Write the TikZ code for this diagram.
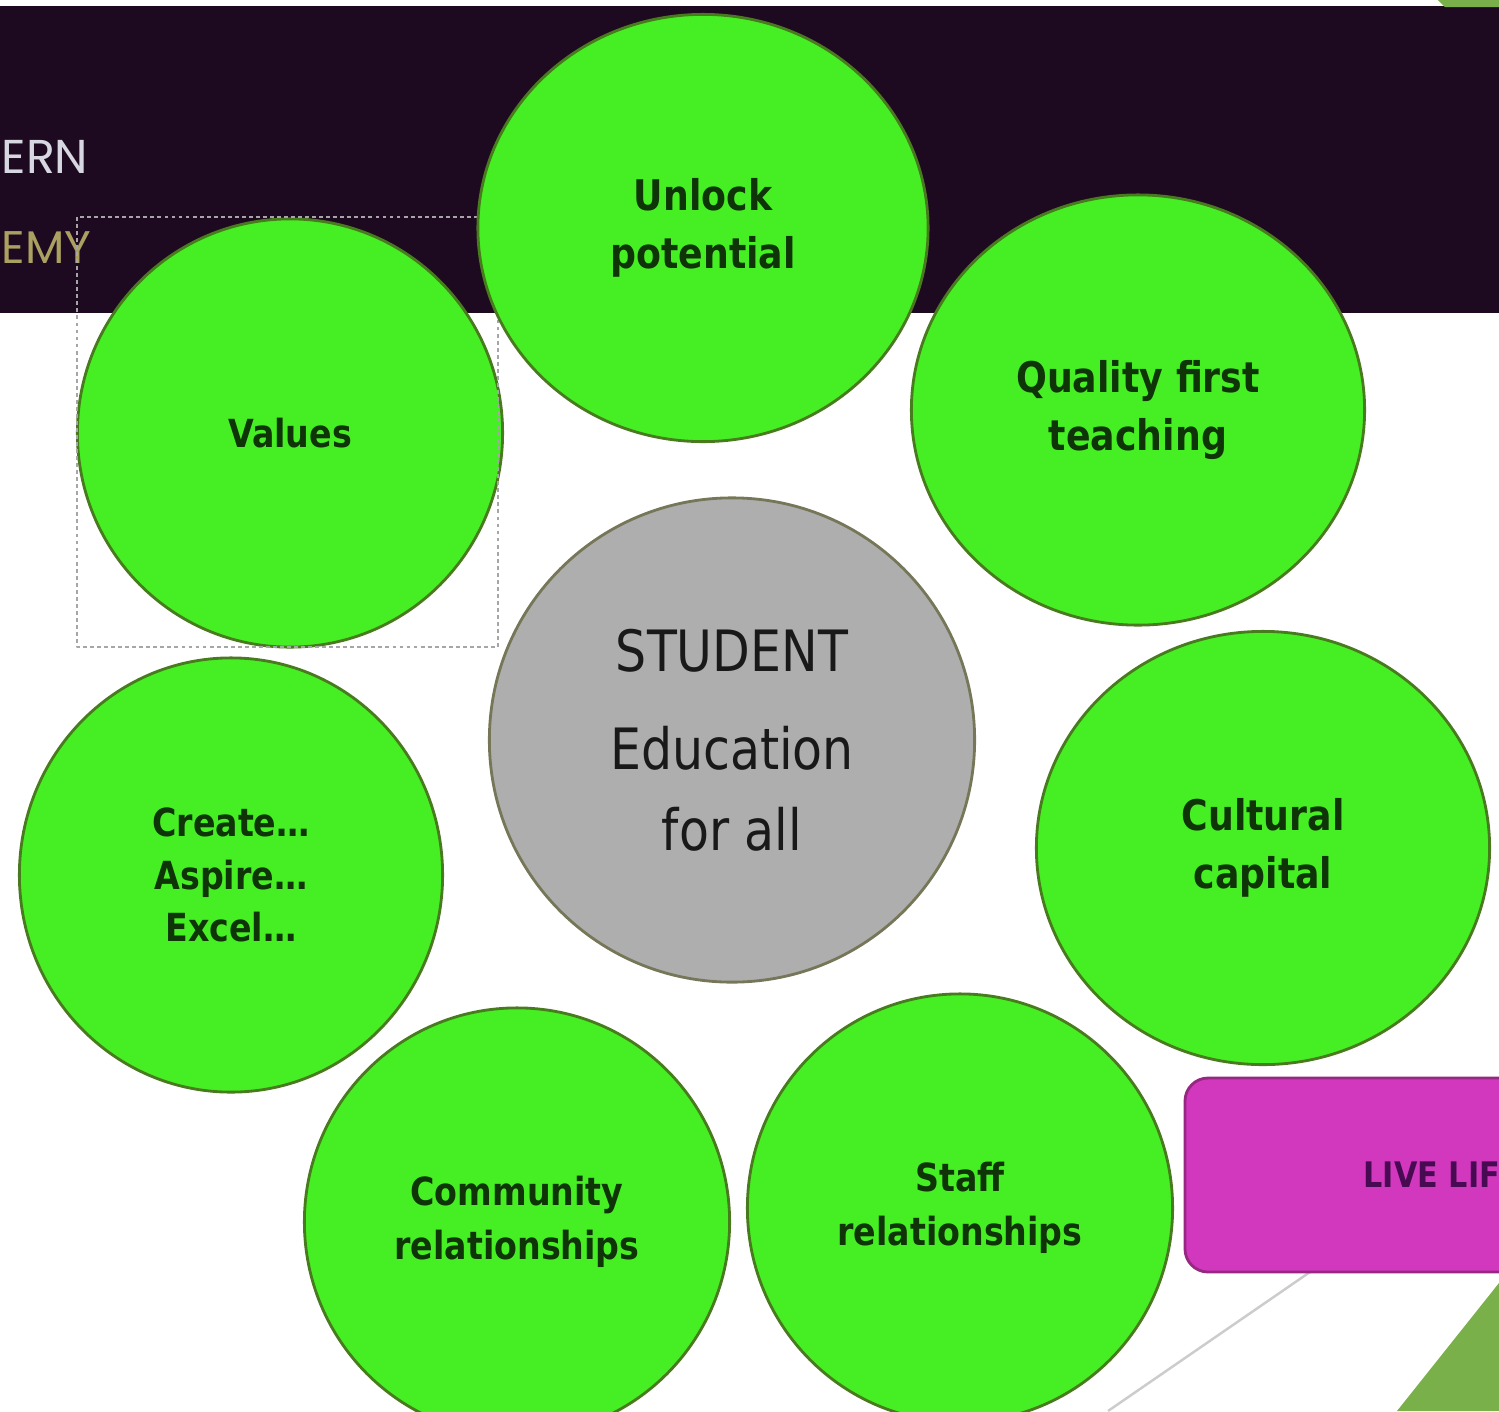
\documentclass[tikz,border=0pt]{standalone}
\usepackage{fontspec}
\setmainfont{DejaVu Sans}[FakeStretch=0.86]
\newfontfamily\headfont{Poppins}
\usetikzlibrary{shapes.geometric}
\definecolor{bandpurple}{RGB}{30,10,32}
\definecolor{bubblegreen}{RGB}{70,238,36}
\definecolor{bubbleedge}{RGB}{72,122,30}
\definecolor{inkgreen}{RGB}{14,52,8}
\definecolor{hubgray}{RGB}{174,174,174}
\definecolor{hubedge}{RGB}{118,118,88}
\definecolor{livepink}{RGB}{210,56,190}
\definecolor{liveedge}{RGB}{150,40,130}
\definecolor{liveink}{RGB}{72,10,82}
\definecolor{cornergreen}{RGB}{122,176,74}
\definecolor{headgold}{RGB}{170,160,95}
\definecolor{headgray}{RGB}{215,215,225}
\tikzset{
  bubble/.style={ellipse, draw=bubbleedge, fill=bubblegreen, line width=0.8pt, inner sep=0pt,
    minimum width=4.25cm, minimum height=4.28cm, align=center, text=inkgreen,
    font=\fontsize{12}{16.5}\selectfont\bfseries},
  smalltext/.style={font=\fontsize{11}{15.2}\selectfont\bfseries},
  hub/.style={ellipse, draw=hubedge, fill=hubgray, line width=0.8pt, inner sep=0pt,
    minimum width=4.85cm, minimum height=4.84cm, align=center, text=black!90,
    font=\fontsize{16.2}{23}\selectfont},
  selbox/.style={draw=gray!70, line width=0.8pt, dash pattern=on 1.1pt off 0.9pt}
}
\begin{document}
\begin{tikzpicture}[x=0.01cm, y=-0.01cm, line join=round]
  \useasboundingbox (0,0) rectangle (1499,1411);
  \clip (0,0) rectangle (1499,1411);
  % header band
  \fill [bandpurple] (0,6) rectangle (1499,313);
  \fill [cornergreen] (1438,0)--(1499,0)--(1499,7)--(1445,7)--cycle;
  \node [anchor=base west, inner sep=0pt, text=headgray, font=\headfont\fontsize{13.5}{16}\selectfont] (ern) at (1,173) {ERN};
  \node [anchor=base west, inner sep=0pt, text=headgold, font=\headfont\fontsize{13}{16}\selectfont] (emy) at (1,263) {EMY};
  % bottom right corner
  \fill [cornergreen] (1397,1411)--(1499,1283)--(1499,1411)--cycle;
  \draw [gray!40, line width=0.7pt] (1310,1272)--(1108,1411);
  \draw [liveedge, fill=livepink, line width=0.8pt, rounded corners=0.23cm] (1185,1078) rectangle (1560,1272);
  \node [anchor=base west, inner sep=0pt, text=liveink, font=\fontsize{10}{12}\selectfont\bfseries] (live) at (1363,1187) {LIVE LIF};
  % circles
  \node [bubble, smalltext] (values) at (290,433) {Values};
  \draw [selbox] (77,217) rectangle (498,647);
  \node [bubble, minimum width=4.5cm, minimum height=4.27cm] (unlock) at (703,228) {Unlock\\potential};
  \node [bubble, minimum width=4.53cm, minimum height=4.3cm] (quality) at (1138,410) {Quality first\\teaching};
  \node [hub] (student) at (732,740) {STUDENT\\[5pt]Education\\for all};
  \node [bubble, minimum width=4.23cm, minimum height=4.34cm, font=\fontsize{11}{15}\selectfont\bfseries] (create) at (231,875) {Create…\\Aspire…\\Excel…};
  \node [bubble, minimum width=4.53cm, minimum height=4.33cm] (cultural) at (1263,848) {Cultural\\capital};
  \node [bubble, smalltext] (community) at (517,1222) {Community\\relationships};
  \node [bubble, smalltext] (staff) at (960,1208) {Sta\kern0ptff\\relationships};
\end{tikzpicture}
\end{document}
